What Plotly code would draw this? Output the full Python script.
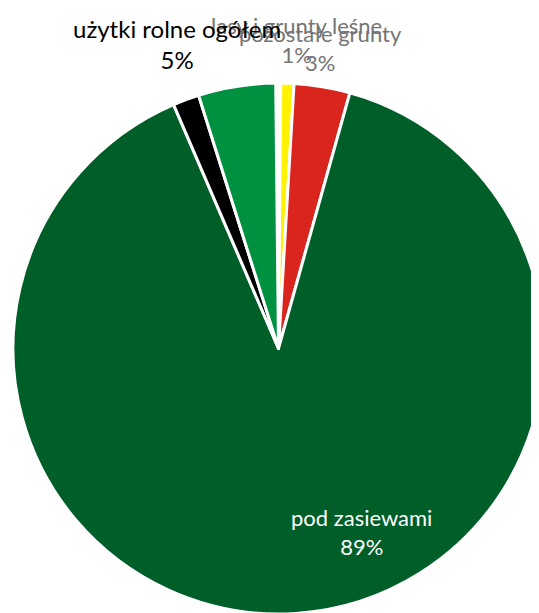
import plotly.graph_objects as go

# land-use shares, clockwise from 12 o'clock
labels = ["sady", "lasy i grunty leśne", "pozostałe grunty", "pod zasiewami",
          "łąki i pastwiska", "użytki rolne ogółem"]
values = [0.3, 0.8, 3.4, 89.2, 1.6, 4.7]
colors = ["#fbfbef", "#fff200", "#d9251d", "#005e29", "#000000", "#009140"]

# which slices get a label: colour, size, position (px from top-left of the figure)
label_style = {
    "lasy i grunty leśne": ("#747474", 22, 288, 32),
    "pozostałe grunty": ("#747474", 22, 312, 40),
    "pod zasiewami": ("#ffffff", 22, 353, 524),
    "użytki rolne ogółem": ("#000000", 24, 169, 36),
}

W, H = 539, 613

fig = go.Figure()
fig.add_trace(go.Pie(
    labels=labels,
    values=values,
    sort=False,
    direction="clockwise",
    rotation=-0.6,
    marker=dict(colors=colors, line=dict(color="white", width=3)),
    textinfo="none",
    hoverinfo="label+percent",
    showlegend=False,
    domain=dict(x=[5 / W, 536 / W], y=[7 / H, 538 / H]),
))

annotations = []
for name, (col, size, x, y) in label_style.items():
    v = values[labels.index(name)]
    annotations.append(dict(
        x=x / W, y=1 - y / H, xref="paper", yref="paper",
        xanchor="center", yanchor="middle",
        text=f"{name}<br>{round(v)}%",
        showarrow=False, align="center",
        font=dict(family="Lato", size=size, color=col),
    ))

fig.update_layout(
    width=W, height=H,
    margin=dict(l=0, r=0, t=0, b=0),
    paper_bgcolor="white",
    annotations=annotations,
)

fig.write_html("out.html")
